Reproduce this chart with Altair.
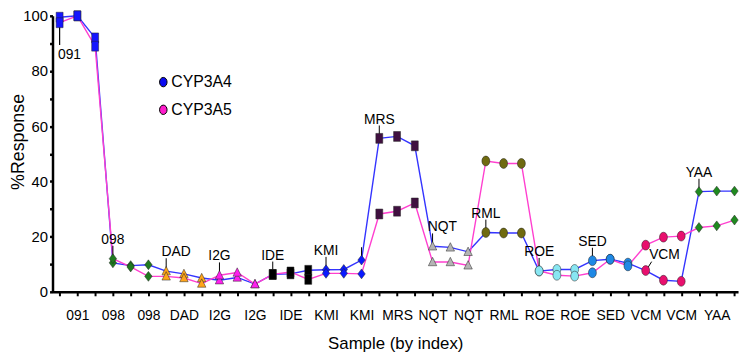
import altair as alt
import pandas as pd

# ---------------- data ----------------
groups = ["091", "098", "DAD", "I2G", "IDE", "KMI", "MRS",
          "NQT", "RML", "ROE", "SED", "VCM", "YAA"]

cyp3a4 = [99.5, 100, 92, 10.5, 9.5, 9.8, 7.5, 6.5, 5.0, 4.2, 5.2, 2.8,
          6.3, 6.5, 7.8, 8.0, 8.1, 11.5, 55.6, 56.3, 52.9, 16.5, 16.1, 14.5,
          21.5, 21.3, 21.3, 7.5, 8.1, 8.1, 11.3, 11.8, 10.4, 7.7, 4.2, 3.8,
          36.3, 36.5, 36.5]
cyp3a5 = [97.5, 100, 89, 12.0, 9.0, 5.6, 5.6, 5.0, 3.0, 6.0, 7.0, 2.8,
          6.3, 7.2, 4.5, 6.7, 6.7, 6.5, 28.2, 29.2, 32.2, 10.8, 10.8, 9.6,
          47.4, 46.5, 46.5, 7.6, 6.0, 5.7, 6.9, 11.8, 9.4, 16.9, 19.8, 20.2,
          23.3, 23.9, 26.0]

series_names = ["CYP3A4", "CYP3A5"]
line_colors = ["#3434ff", "#ff3fcf"]
legend_colors = ["#0a0af0", "#ff1ccc"]

tick_labels = ["091", "098", "098", "DAD", "I2G", "I2G", "IDE", "KMI", "KMI",
               "MRS", "NQT", "NQT", "RML", "ROE", "ROE", "SED", "VCM", "VCM", "YAA"]

group_colors = ["#1515ff", "#1f7a1f", "#ffa51a", "#ff1fee", "#000000", "#0a1aff",
                "#401040", "#b4b4b4", "#6f6a10", "#88e6f2", "#1e88e5", "#e8106e",
                "#1f8a1f"]

# annotation: (label, sample index, series it points at, placement)
annotations = [
    ("091", 1, "CYP3A4", "below"),
    ("098", 4, "CYP3A5", "center"),
    ("DAD", 7, "CYP3A4", "right"),
    ("I2G", 10, "CYP3A5", "center"),
    ("IDE", 13, "CYP3A4", "center"),
    ("KMI", 16, "CYP3A4", "center"),
    ("", 18, "CYP3A4", "center"),
    ("MRS", 19, "CYP3A4", "center"),
    ("NQT", 22, "CYP3A4", "right"),
    ("RML", 25, "CYP3A4", "center"),
    ("ROE", 28, "CYP3A5", "center"),
    ("SED", 31, "CYP3A4", "center"),
    ("VCM", 34, "CYP3A4", "diag"),
    ("YAA", 37, "CYP3A4", "center"),
]

# ---------------- tables ----------------
n = len(cyp3a4)
idx = list(range(1, n + 1))
grp = [g for g in groups for _ in range(3)]
rows = []
for s, vals in zip(series_names, [cyp3a4, cyp3a5]):
    for i, v, g in zip(idx, vals, grp):
        rows.append({"idx": i, "series": s, "value": v, "group": g})
df = pd.DataFrame(rows)

lookup = {"CYP3A4": cyp3a4, "CYP3A5": cyp3a5}
ann = pd.DataFrame([
    {"label": l, "idx": i, "value": lookup[s][i - 1], "style": st}
    for l, i, s, st in annotations
])

NARROW = "Liberation Sans Narrow, Arial Narrow, Liberation Sans, Arial, sans-serif"
REG = "Liberation Sans, Arial, sans-serif"

shape_paths = {
    "square": "M-0.7,-1H0.7V1H-0.7Z",
    "diamond": "M0,-1L0.75,0L0,1L-0.75,0Z",
    "triangle": "M0,-0.95L0.85,0.75L-0.85,0.75Z",
    "ellipse": ("M0,-1C0.45,-1 0.8,-0.55 0.8,0C0.8,0.55 0.45,1 0,1"
                "C-0.45,1 -0.8,0.55 -0.8,0C-0.8,-0.55 -0.45,-1 0,-1Z"),
}
group_shapes = [shape_paths[k] for k in
                ["square", "diamond", "triangle", "triangle", "square", "diamond",
                 "square", "triangle", "ellipse", "ellipse", "ellipse", "ellipse",
                 "diamond"]]

# x tick labels: every second sample index carries a group name
label_expr = "".join(
    f"datum.value == {2 * (k + 1)} ? '{lab}' : " for k, lab in enumerate(tick_labels)
) + "''"

x_enc = alt.X(
    "idx:Q",
    scale=alt.Scale(domain=[0.6, 39.2], nice=False, zero=False),
    axis=alt.Axis(
        values=idx, tickCount=100, labelExpr=label_expr, title="Sample (by index)",
        labelFont=NARROW, labelFontSize=14, labelColor="black", labelPadding=13,
        labelOverlap=False, labelFlush=False,
        tickSize=4, tickWidth=2, tickColor="black",
        domainWidth=2.5, domainColor="black",
        titleFont=REG, titleFontSize=17, titleFontWeight="normal",
        titleColor="black", titlePadding=13,
    ),
)
y_enc = alt.Y(
    "value:Q",
    scale=alt.Scale(domain=[0, 100], nice=False),
    axis=alt.Axis(
        values=list(range(0, 101, 10)), tickCount=100,
        labelExpr="datum.value % 20 == 0 ? datum.label : ''",
        labelOverlap=False,
        title="%Response",
        labelFont=NARROW, labelFontSize=15, labelColor="black", labelPadding=2,
        tickSize=3, tickWidth=2.5, tickColor="black",
        domainWidth=2.5, domainColor="black",
        titleFont=REG, titleFontSize=18, titleFontWeight="normal",
        titleColor="black", titleX=-34, titleY=127, titleAngle=270,
        titleAlign="center", titleBaseline="middle",
    ),
)

base = alt.Chart(df)

lines = base.mark_line(strokeWidth=1.4).encode(
    x=x_enc, y=y_enc,
    stroke=alt.Stroke("series:N", scale=alt.Scale(range=line_colors), legend=None),
)

# small points in series colour (hidden under the group markers) carry the legend
legend_layer = base.mark_point(filled=True, size=12, opacity=1).encode(
    x="idx:Q", y="value:Q",
    color=alt.Color(
        "series:N", scale=alt.Scale(domain=series_names, range=legend_colors),
        legend=alt.Legend(
            title=None, orient="none", legendX=104, legendY=59,
            symbolType=shape_paths["ellipse"], symbolSize=90,
            symbolStrokeColor="black", symbolStrokeWidth=1,
            labelFont=REG, labelFontSize=16, labelColor="black",
            labelOffset=0, rowPadding=12,
        ),
    ),
)

points = base.mark_point(filled=True, size=100, opacity=1, stroke="#222222",
                         strokeWidth=0.5).encode(
    x="idx:Q", y="value:Q",
    fill=alt.Fill("group:N", scale=alt.Scale(domain=groups, range=group_colors),
                  legend=None),
    shape=alt.Shape("group:N", scale=alt.Scale(domain=groups, range=group_shapes),
                    legend=None),
)

ann_base = alt.Chart(ann)

txt_center = ann_base.transform_filter(alt.datum.style == "center").mark_text(
    dy=-19, font=NARROW, fontSize=14, color="black").encode(
    x="idx:Q", y="value:Q", text="label:N")
txt_right = ann_base.transform_filter(alt.datum.style == "right").mark_text(
    dy=-19, dx=10, font=NARROW, fontSize=14, color="black").encode(
    x="idx:Q", y="value:Q", text="label:N")
txt_diag = ann_base.transform_filter(alt.datum.style == "diag").mark_text(
    dy=-16, dx=19, font=NARROW, fontSize=14, color="black").encode(
    x="idx:Q", y="value:Q", text="label:N")
txt_below = ann_base.transform_filter(alt.datum.style == "below").mark_text(
    dy=38, dx=10, font=NARROW, fontSize=14, color="black").encode(
    x="idx:Q", y="value:Q", text="label:N")

lead_up = ann_base.transform_filter(
    (alt.datum.style == "center") | (alt.datum.style == "right")
).mark_rule(yOffset=-13, y2Offset=-3, color="black", strokeWidth=1).encode(
    x="idx:Q", y="value:Q", y2=alt.Y2("value:Q"))
lead_diag = ann_base.transform_filter(alt.datum.style == "diag").mark_rule(
    xOffset=1, x2Offset=6, yOffset=-1, y2Offset=-9, color="black", strokeWidth=1
).encode(x="idx:Q", x2=alt.X2("idx:Q"), y="value:Q", y2=alt.Y2("value:Q"))
lead_below = ann_base.transform_filter(alt.datum.style == "below").mark_rule(
    yOffset=6, y2Offset=28, color="black", strokeWidth=1.2).encode(
    x="idx:Q", y="value:Q", y2=alt.Y2("value:Q"))

chart = alt.layer(
    lines, lead_up, lead_diag, lead_below, legend_layer, points,
    txt_center, txt_right, txt_diag, txt_below,
).properties(
    width=693, height=279, autosize="none",
    padding={"left": 45, "top": 6, "right": 4, "bottom": 66},
).configure_axis(grid=False).configure_view(stroke=None)

chart.save("out.html", embed_options={"renderer": "svg", "actions": False})
